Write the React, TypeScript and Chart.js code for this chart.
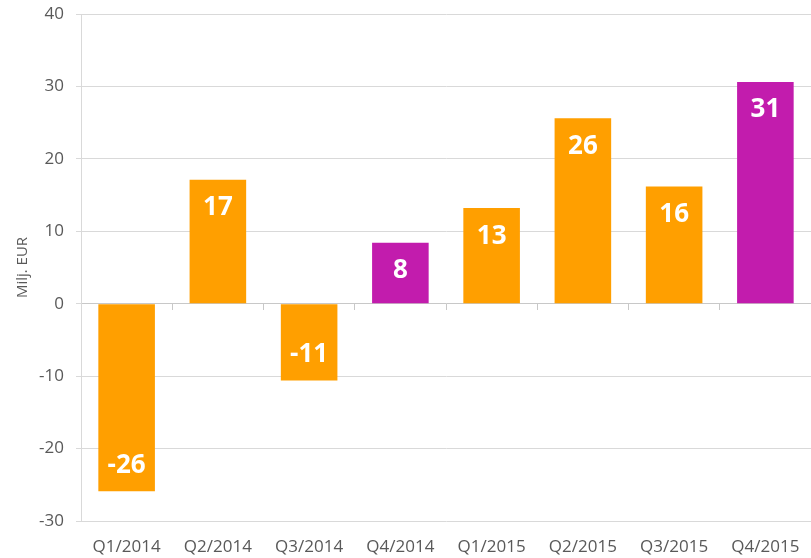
import React, { useEffect, useRef } from "react";
import { Chart, registerables } from "chart.js";

Chart.register(...registerables);

const categories = ["Q1/2014", "Q2/2014", "Q3/2014", "Q4/2014", "Q1/2015", "Q2/2015", "Q3/2015", "Q4/2015"];
const values = [-25.9, 17.1, -10.6, 8.4, 13.2, 25.6, 16.2, 30.6];
const valueLabels = ["-26", "17", "-11", "8", "13", "26", "16", "31"];
const barColors = ["#FF9F00", "#FF9F00", "#FF9F00", "#C21CAD", "#FF9F00", "#FF9F00", "#FF9F00", "#C21CAD"];
const yMin = -30;
const yMax = 40;
const yStep = 10;
const yTitle = "Milj. EUR";

const FONT = "'Open Sans', sans-serif";
const GRID = "#d9d9d9";
const TEXT = "#595959";

const labelPlugin = {
  id: "barValueLabels",
  afterDatasetsDraw(chart: any) {
    const ctx = chart.ctx;
    const meta = chart.getDatasetMeta(0);
    ctx.save();
    ctx.fillStyle = "#ffffff";
    ctx.font = `bold 26px ${FONT}`;
    ctx.textAlign = "center";
    ctx.textBaseline = "middle";
    meta.data.forEach((bar: any, i: number) => {
      const { x, y, base } = bar.getProps(["x", "y", "base"], true);
      const ty = y < base ? y + 28 : y - 26;
      ctx.fillText(valueLabels[i], x, ty);
    });
    ctx.restore();
  },
};

export default function App() {
  const ref = useRef<HTMLCanvasElement>(null);
  useEffect(() => {
    if (!ref.current) return;
    const chart = new Chart(ref.current, {
      type: "bar",
      data: {
        labels: categories,
        datasets: [
          {
            data: values,
            backgroundColor: barColors,
            borderWidth: 0,
            barPercentage: 0.62,
            categoryPercentage: 1,
            xAxisID: "x",
            yAxisID: "y",
          },
        ],
      },
      options: {
        animation: false,
        responsive: false,
        maintainAspectRatio: false,
        layout: { padding: { top: 14, right: 0, bottom: 0, left: 0 } },
        plugins: { legend: { display: false }, tooltip: { enabled: false } },
        scales: {
          x: {
            type: "category",
            position: "bottom",
            offset: true,
            grid: { display: false, drawTicks: false },
            border: { display: false },
            ticks: { color: TEXT, font: { family: FONT, size: 17 }, padding: 16, maxRotation: 0 },
            afterFit: (s: any) => { s.height = 37; s.paddingLeft = 0; s.paddingRight = 0; },
          },
          x0: {
            type: "category",
            position: { y: 0 },
            offset: true,
            grid: { display: true, offset: true, drawOnChartArea: false, drawTicks: true, tickLength: 6, color: "#c8c8c8" },
            border: { display: true, color: "#c8c8c8" },
            ticks: { display: false },
            afterFit: (s: any) => { s.height = 0; s.paddingLeft = 0; s.paddingRight = 0; },
          },
          y: {
            type: "linear",
            min: yMin,
            max: yMax,
            ticks: { stepSize: yStep, color: TEXT, font: { family: FONT, size: 17 }, padding: 12 },
            grid: { color: GRID, tickLength: 5, drawTicks: true },
            border: { display: true, color: GRID },
            title: { display: true, text: yTitle, color: TEXT, font: { family: FONT, size: 15 }, padding: { top: 14, bottom: 0 } },
            afterFit: (s: any) => { s.width = 81; s.paddingTop = 0; s.paddingBottom = 0; },
          },
        },
      },
      plugins: [labelPlugin],
    });
    return () => chart.destroy();
  }, []);
  return (
    <div style={{ position: "absolute", left: 0, top: 0, width: 811, height: 558, background: "#fff" }}>
      <canvas ref={ref} width={811} height={558} style={{ display: "block", width: 811, height: 558 }} />
    </div>
  );
}
